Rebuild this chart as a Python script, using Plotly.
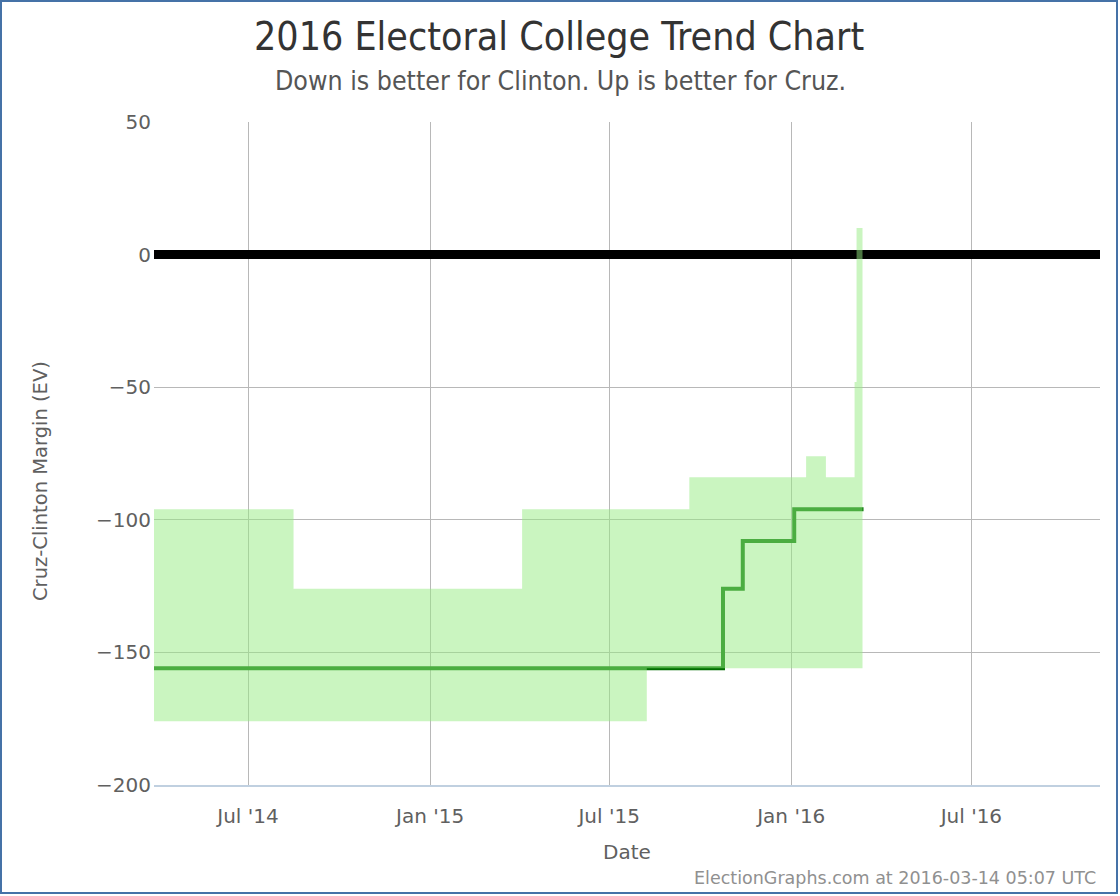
import plotly.graph_objects as go

# ---------------- data ----------------
# Range band (light green): step changes of the upper and lower bounds
upper_dates = ["2014-03-28", "2014-08-16", "2015-04-04", "2015-09-20",
               "2016-01-16", "2016-02-05", "2016-03-05", "2016-03-07"]
upper_vals = [-96, -126, -96, -84, -76, -84, -48, 10]
lower_dates = ["2014-03-28", "2015-08-08"]
lower_vals = [-176, -156]
band_end = "2016-03-13"

# Expected margin line (step changes)
line_dates = ["2014-03-28", "2015-10-24", "2015-11-13", "2016-01-04", "2016-03-14"]
line_vals = [-156, -126, -108, -96, -96]

# Tie line
zero_dates = ["2014-03-28", "2016-11-08"]
zero_vals = [0, 0]

x_range = ["2014-03-28", "2016-11-08"]
y_range = [-200, 50]
x_tick_vals = ["2014-07-01", "2015-01-01", "2015-07-01", "2016-01-01", "2016-07-01"]
x_tick_text = ["Jul '14", "Jan '15", "Jul '15", "Jan '16", "Jul '16"]
y_tick_vals = [50, 0, -50, -100, -150, -200]

title = "2016 Electoral College Trend Chart"
subtitle = "Down is better for Clinton. Up is better for Cruz."
x_title = "Date"
y_title = "Cruz-Clinton Margin (EV)"
credit = "ElectionGraphs.com at 2016-03-14 05:07 UTC"


def step_points(dates, vals, end):
    xs, ys = [], []
    for i, (d, v) in enumerate(zip(dates, vals)):
        nxt = dates[i + 1] if i + 1 < len(dates) else end
        xs += [d, nxt]
        ys += [v, v]
    return xs, ys


ux, uy = step_points(upper_dates, upper_vals, band_end)
lx, ly = step_points(lower_dates, lower_vals, band_end)
band_x = ux + lx[::-1]
band_y = uy + ly[::-1]

# ---------------- layout geometry ----------------
W, H = 1120, 896
ML, MR, MT, MB = 154, 20, 122, 111
PW, PH = W - ML - MR, H - MT - MB


def px_x(p):
    return (p - ML) / PW


def px_y(p):
    return (H - MB - p) / PH


fig = go.Figure()

fig.add_trace(go.Scatter(
    x=zero_dates, y=zero_vals, mode="lines",
    line=dict(color="black", width=9), hoverinfo="skip", showlegend=False))

fig.add_trace(go.Scatter(
    x=line_dates, y=line_vals, mode="lines", line_shape="hv",
    line=dict(color="rgb(0,110,0)", width=4), hoverinfo="skip", showlegend=False))

fig.add_trace(go.Scatter(
    x=band_x, y=band_y, mode="lines", fill="toself",
    fillcolor="rgba(150,235,130,0.5)", line=dict(width=0),
    hoverinfo="skip", showlegend=False))

axis_font = dict(family="DejaVu Sans", size=20, color="#606060")

fig.update_layout(
    width=W, height=H,
    margin=dict(l=ML, r=MR, t=MT, b=MB, pad=0),
    paper_bgcolor="white", plot_bgcolor="white",
    showlegend=False,
    xaxis=dict(
        type="date", range=x_range, tickvals=x_tick_vals, ticktext=x_tick_text,
        showgrid=True, gridcolor="#b8b8b8", gridwidth=1,
        showline=True, linecolor="#c0d0e0", linewidth=2,
        ticks="", tickfont=axis_font, ticklabelstandoff=12, zeroline=False,
        fixedrange=True),
    yaxis=dict(
        range=y_range, tickvals=y_tick_vals,
        showgrid=True, gridcolor="#b8b8b8", gridwidth=1,
        showline=False, ticks="", tickfont=axis_font, zeroline=False,
        ticklabelstandoff=2, fixedrange=True),
    shapes=[
        dict(type="rect", xref="paper", yref="paper",
             x0=px_x(1), x1=px_x(1117), y0=px_y(893), y1=px_y(1),
             line=dict(color="#4572A7", width=2), layer="above"),
    ],
    annotations=[
        dict(text=title, xref="paper", yref="paper", x=px_x(559), y=px_y(36),
             xanchor="center", yanchor="middle", showarrow=False,
             font=dict(family="DejaVu Sans Condensed, DejaVu Sans", size=39, color="#333333")),
        dict(text=subtitle, xref="paper", yref="paper", x=px_x(560), y=px_y(80),
             xanchor="center", yanchor="middle", showarrow=False,
             font=dict(family="DejaVu Sans Condensed, DejaVu Sans", size=26.5, color="#555555")),
        dict(text=x_title, xref="paper", yref="paper", x=px_x(627), y=px_y(852),
             xanchor="center", yanchor="middle", showarrow=False,
             font=dict(family="DejaVu Sans", size=20, color="#606060")),
        dict(text=y_title, xref="paper", yref="paper", x=px_x(40), y=px_y(481),
             xanchor="center", yanchor="middle", showarrow=False, textangle=-90,
             font=dict(family="DejaVu Sans", size=19.5, color="#606060")),
        dict(text=credit, xref="paper", yref="paper", x=px_x(1098), y=px_y(878),
             xanchor="right", yanchor="middle", showarrow=False,
             font=dict(family="DejaVu Sans", size=17.5, color="#909090")),
    ],
)

fig.write_html("out.html")
